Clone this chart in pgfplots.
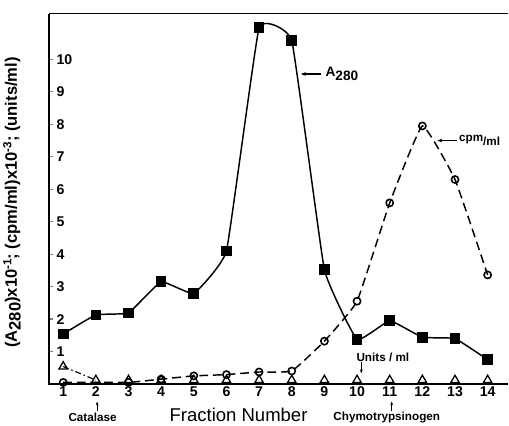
\documentclass[border=0pt]{standalone}
\usepackage{pgfplots}
\pgfplotsset{compat=1.18}
\usetikzlibrary{arrows.meta}
\usepackage{fontspec}
\setmainfont{Liberation Sans}
\newcommand{\sub}[1]{\raisebox{-4pt}{#1}}
\newcommand{\sups}[1]{\raisebox{5.5pt}{\fontsize{12}{12}\selectfont #1}}
\begin{document}
\begin{tikzpicture}
\begin{axis}[
 at={(0,0)}, anchor=south west,
 scale only axis, width=471pt, height=380pt,
 xmin=0.57, xmax=14.63, ymin=0, ymax=11.41,
 axis line style={draw=none},
 clip=false,
 xtick={1,...,14}, xtick style={draw=none},
 ytick={1,...,10}, ytick pos=left, ytick style={line width=1.2pt},
 tick align=inside, major tick length=4pt,
 yticklabel style={anchor=west, xshift=4pt},
 xticklabel style={yshift=1pt},
 ticklabel style={font=\bfseries\fontsize{14.5}{14.5}\selectfont},
 /pgf/number format/assume math mode=true,
]
\draw[line width=1.6pt] (rel axis cs:0,1) -- (rel axis cs:0,0) -- (rel axis cs:1,0);
\draw[line width=1.3pt] (rel axis cs:0,1) -- (rel axis cs:1,1);

% A280
\addplot[black, line width=1.5pt, smooth, tension=0.18, mark=square*, mark size=4.7pt]
 coordinates {(1,1.54)(2,2.13)(3,2.19)(4,3.15)(5,2.79)(6,4.1)(7,10.98)(8,10.58)(9,3.52)(10,1.37)(11,1.95)(12,1.44)(13,1.4)(14,0.75)};
% cpm/ml
\addplot[black, line width=1.5pt, dash pattern=on 9pt off 5pt, smooth, tension=0.2, mark=o, mark size=3.7pt, mark options={solid, fill=white, line width=1.6pt}]
 coordinates {(1,0.05)(3,0.05)(4,0.15)(5,0.25)(6,0.29)(7,0.37)(8,0.4)(9,1.32)(10,2.55)(11,5.58)(12,7.95)(13,6.3)(14,3.36)};
% units/ml
\addplot[black, line width=1.2pt, dash pattern=on 6pt off 3pt on 1.5pt off 3pt] coordinates {(1,0.54)(2,0.12)};
\addplot[black, only marks, mark=triangle, mark size=5pt, line width=1.3pt, mark options={fill=white}]
 coordinates {(1,0.54)(2,0.12)(3,0.12)(4,0.12)(5,0.12)(6,0.12)(7,0.12)(8,0.12)(9,0.12)(10,0.12)(11,0.12)(12,0.12)(13,0.12)(14,0.12)};

% annotations
\draw[-{Stealth[length=5pt]}, line width=1.2pt] (axis cs:8.91,9.55) -- (axis cs:8.28,9.55);
\node[anchor=west, inner sep=0pt, font=\bfseries\fontsize{14}{14}\selectfont] at (axis cs:9.03,9.55) {A\sub{280}};
\draw[-{Stealth[length=5pt]}, line width=1.2pt] (axis cs:13.06,7.5) -- (axis cs:12.46,7.5);
\node[anchor=west, inner sep=0pt, font=\bfseries\fontsize{12}{12}\selectfont] at (axis cs:13.12,7.5) {cpm\sub{/ml}};
\node[font=\bfseries\fontsize{12}{12}\selectfont] at (axis cs:10.79,0.83) {Units / ml};
\draw[-{Stealth[length=4pt]}, line width=1.1pt] (axis cs:10.13,0.67) -- (axis cs:10.13,0.33);
\node[font=\bfseries\fontsize{12}{12}\selectfont] at (axis cs:1.9,-1.02) {Catalase};
\draw[-{Stealth[length=4pt]}, line width=1.1pt] (axis cs:2.04,-0.84) -- (axis cs:2.04,-0.54);
\node[font=\bfseries\fontsize{12}{12}\selectfont] at (axis cs:10.91,-1.02) {Chymotrypsinogen};
\draw[-{Stealth[length=4pt]}, line width=1.1pt] (axis cs:11.06,-0.84) -- (axis cs:11.06,-0.54);
\node[font=\fontsize{19}{19}\selectfont] at (axis cs:6.37,-0.96) {Fraction Number};
\path (rel axis cs:0,0.49) ++(-19pt,0) node[rotate=90, font=\bfseries\fontsize{17}{17}\selectfont]
 {(A\sub{280})x10\sups{-1}; (cpm/ml)x10\sups{-3}; (units/ml)};
\end{axis}
\path[use as bounding box] (-38pt,-42pt) rectangle (471pt,394pt);
\end{tikzpicture}
\end{document}
